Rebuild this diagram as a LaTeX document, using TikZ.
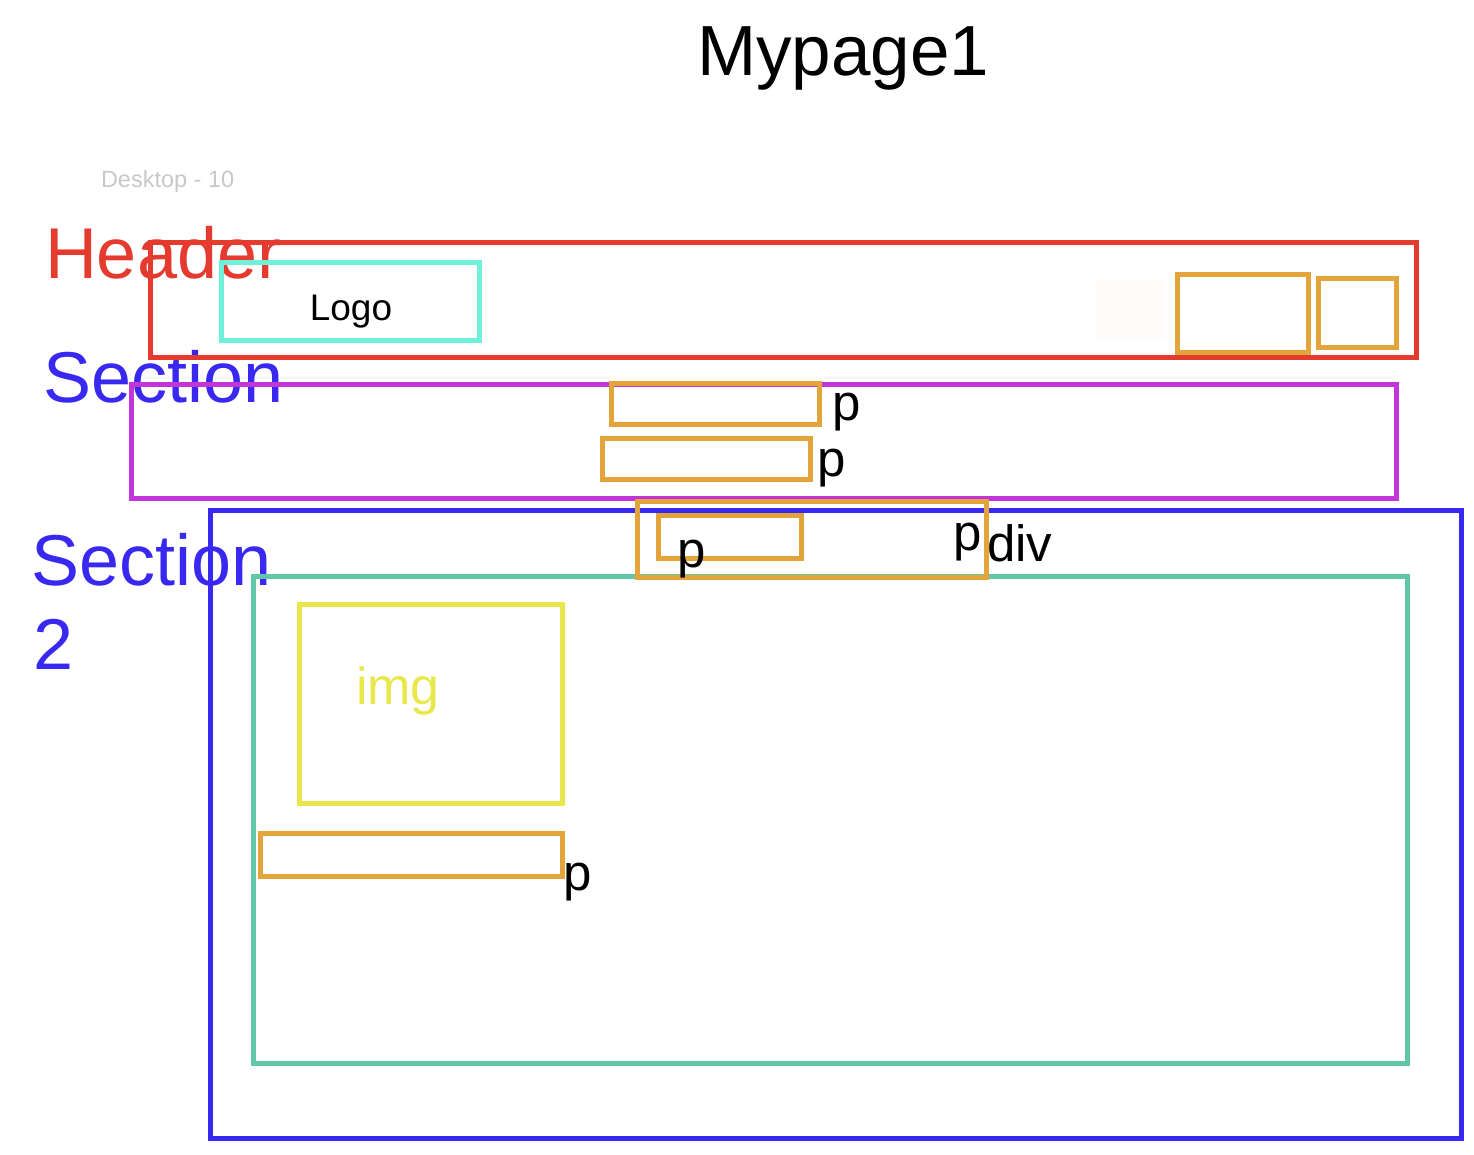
\documentclass[tikz,border=0pt]{standalone}
\usepackage{fontspec}
\setmainfont{Liberation Sans}
\definecolor{cred}{HTML}{E53A2E}
\definecolor{ccyan}{HTML}{6FF0D8}
\definecolor{corange}{HTML}{E3A43C}
\definecolor{cmagenta}{HTML}{C235D8}
\definecolor{cblue}{HTML}{3929F0}
\definecolor{cgreen}{HTML}{62C6A8}
\definecolor{cyellow}{HTML}{E8E84C}
\definecolor{cgray}{HTML}{C8C8C8}
\definecolor{cfaint}{HTML}{FFFBFB}
\tikzset{
  box/.style={line width=5pt, line join=miter},
  lbl/.style={anchor=base west, inner sep=0pt, outer sep=0pt},
  plbl/.style={lbl, text=black, font=\fontsize{51}{60}\selectfont},
  title/.style={lbl, font=\fontsize{72}{84}\selectfont},
}
\begin{document}
\begin{tikzpicture}[x=1pt,y=-1pt]
\useasboundingbox (0,0) rectangle (1474,1154);
% texts under boxes
\node[lbl, font=\fontsize{71}{80}\selectfont] (title) at (697,75) {Mypage1};
\node[lbl, text=cgray, font=\fontsize{23.5}{28}\selectfont] (desk) at (101,187) {Desktop - 10};
\node[title, text=cred] (header) at (45,278) {Header};
\node[title, text=cblue] (section) at (43,402) {Section};
\node[title, text=cblue] (section2) at (31,585) {Section};
\node[title, text=cblue] (two) at (33,669) {2};
% faint rectangle
\fill[cfaint] (1096,280) rectangle (1164,339);
% header
\draw[box, cred] (150.5,242) rectangle (1416.5,357);
\draw[box, ccyan] (221.5,262.5) rectangle (479.5,340);
\node[anchor=base, inner sep=0pt, font=\fontsize{37}{44}\selectfont] (logo) at (351,320) {Logo};
\draw[box, corange] (1177.5,274.5) rectangle (1308.5,352.5);
\draw[box, corange] (1318.5,278.5) rectangle (1396.5,347.5);
% section
\draw[box, cmagenta] (131.5,384.5) rectangle (1396.5,498.5);
\draw[box, corange] (611.5,383.5) rectangle (819.5,424.5);
\draw[box, corange] (602.5,438.5) rectangle (810.5,479.5);
\node[plbl] (p1) at (832,420) {p};
\node[plbl] (p2) at (817,476) {p};
% section 2
\draw[box, cblue] (210.5,510.5) rectangle (1461.5,1138.5);
\draw[box, cgreen] (253.5,576) rectangle (1407.5,1063.5);
\draw[box, corange] (637.5,501) rectangle (986.5,577.5);
\draw[box, corange] (658,515.5) rectangle (801.5,558.5);
\draw[box, cyellow] (299.5,604.5) rectangle (562,803);
\draw[box, corange] (260,833) rectangle (562,876.5);
\node[lbl, text=cyellow, font=\fontsize{52}{60}\selectfont] (img) at (356,704) {img};
\node[plbl] (p3) at (677,567) {p};
\node[plbl] (p4) at (953,550) {p};
\node[plbl] (div) at (987,561) {div};
\node[plbl] (p5) at (563,890) {p};
\end{tikzpicture}
\end{document}
